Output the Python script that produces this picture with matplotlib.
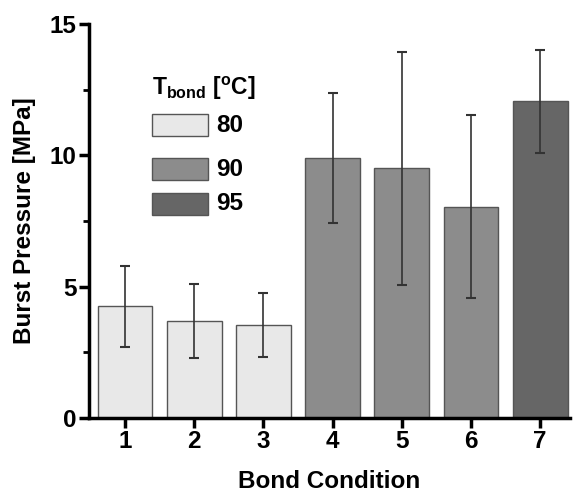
import matplotlib
matplotlib.use("Agg")
import matplotlib.pyplot as plt
from matplotlib.patches import Rectangle

# data
conditions = [1, 2, 3, 4, 5, 6, 7]
pressure = [4.25, 3.7, 3.55, 9.9, 9.5, 8.05, 12.05]
error = [1.55, 1.4, 1.22, 2.47, 4.45, 3.5, 1.95]
temps = [80, 80, 80, 90, 90, 90, 95]
temp_labels = ['80', '90', '95']

temp_colors = {80: '#e8e8e8', 90: '#8c8c8c', 95: '#666666'}
bar_colors = [temp_colors[t] for t in temps]

plt.rcParams['font.family'] = ['Liberation Sans', 'DejaVu Sans']
plt.rcParams['font.weight'] = 'bold'
plt.rcParams['mathtext.fontset'] = 'custom'
plt.rcParams['mathtext.rm'] = 'Liberation Sans:bold'
plt.rcParams['mathtext.bf'] = 'Liberation Sans:bold'
plt.rcParams['mathtext.it'] = 'Liberation Sans:bold'

fig = plt.figure(figsize=(5.74, 4.95), dpi=100)
ax = fig.add_axes([0.155, 0.1556, 0.838, 0.796])

ax.bar(conditions, pressure, width=0.79, color=bar_colors, edgecolor='#555555',
       linewidth=1.0, zorder=2)
ax.errorbar(conditions, pressure, yerr=error, fmt='none', ecolor='#333333',
            elinewidth=1.2, capsize=3.5, capthick=1.5, zorder=3)

ax.set_xlim(0.48, 7.43)
ax.set_ylim(0, 15)
ax.set_xticks(conditions)
ax.set_yticks([0, 5, 10, 15])
ax.set_yticks([2.5, 7.5, 12.5], minor=True)

for s in ['top', 'right']:
    ax.spines[s].set_visible(False)
ax.spines['left'].set_linewidth(2.5)
ax.spines['bottom'].set_linewidth(2.5)
ax.tick_params(axis='both', which='major', direction='out', length=7, width=2.5,
               labelsize=17.5, pad=2)
ax.tick_params(axis='y', which='minor', direction='out', length=4, width=2.0)

ax.set_xlabel('Bond Condition', fontsize=17.5, fontweight='bold', labelpad=12)
ax.set_ylabel('Burst Pressure [MPa]', fontsize=17.5, fontweight='bold', labelpad=10)

# legend drawn by hand (uneven spacing in the original)
fig.text(152 / 574, 1 - 88 / 495, r'T$_{\rm bond}$ [$^{\rm o}$C]',
         fontsize=16.5, fontweight='bold', va='center', ha='left')
leg_y = [125, 169, 204]
for lab, yy in zip(temp_labels, leg_y):
    c = temp_colors[int(lab)]
    fig.patches.append(Rectangle((152 / 574, 1 - (yy + 11) / 495), 56 / 574, 22 / 495,
                                 transform=fig.transFigure, facecolor=c,
                                 edgecolor='#555555', linewidth=1.0))
    fig.text(216 / 574, 1 - yy / 495, lab, fontsize=17.5, fontweight='bold',
             va='center', ha='left')

fig.savefig('out.png', dpi=100)
